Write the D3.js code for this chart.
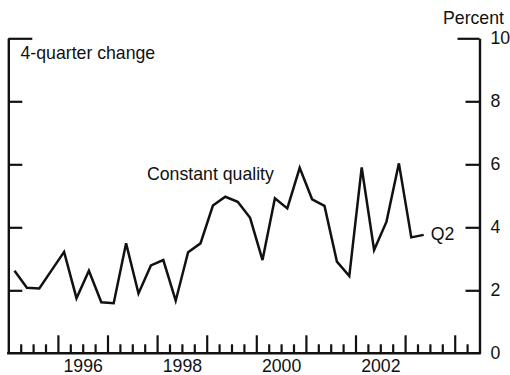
<!DOCTYPE html>
<html>
<head>
<meta charset="utf-8">
<script src="https://cdn.jsdelivr.net/npm/d3@7"></script>
<style>
  html, body { margin: 0; padding: 0; background: #fff; }
  svg { display: block; }
  text { font-family: "Liberation Sans", Arial, Helvetica, sans-serif; fill: #111; }
</style>
</head>
<body>
<svg id="chart" width="510" height="375"></svg>
<script>
// ---- Data (4-quarter change, percent), quarterly from 1995 Q1 to 2003 Q2 ----
const startYear = 1995;
const values = [2.62, 2.08, 2.06, 2.64, 3.22, 1.75, 2.62, 1.62, 1.59, 3.49,
                1.90, 2.79, 2.96, 1.67, 3.21, 3.49, 4.69, 4.97, 4.81, 4.30,
                2.96, 4.92, 4.60, 5.89, 4.89, 4.68, 2.91, 2.45, 5.90, 3.28,
                4.18, 6.03, 3.68, 3.76];
const yTicks = [0, 2, 4, 6, 8, 10];
const yearLabels = [1996, 1998, 2000, 2002];
const yearTicks = [1996, 1997, 1998, 1999, 2000, 2001, 2002, 2003, 2004];
const xDomain = [1995, 2004.5];
const seriesLabel = "Constant quality";
const endLabel = "Q2";
const panelLabel = "4-quarter change";
const unitLabel = "Percent";

(function () {
// ---- Layout ----
const mLeft = 8.3, mRight = 479.5, mTop = 38.3, mBottom = 353.3;
const FS = 17.7;

const svg = d3.select("#chart");
const x = d3.scaleLinear().domain(xDomain).range([mLeft, mRight]);
const y = d3.scaleLinear().domain([0, 10]).range([mBottom, mTop]);

const points = values.map((v, i) => ({ t: startYear + Math.floor(i / 4) + ((i % 4) + 0.5) / 4, v }));

const quarterTicks = d3.range(Math.round((xDomain[1] - xDomain[0]) * 4) + 1)
  .map(i => xDomain[0] + i / 4)
  .filter(t => t > xDomain[0] && t < xDomain[1] && Math.abs(t - Math.round(t)) > 1e-6);

function styleAxis(g) {
  g.selectAll("path.domain").attr("stroke", "#111").attr("stroke-width", 2.4);
  g.selectAll(".tick line").attr("stroke", "#111").attr("stroke-width", 2.2);
  g.selectAll("text").attr("font-size", FS).attr("font-family", "Liberation Sans, Arial, sans-serif").attr("fill", "#111");
}

// Quarter ticks (short)
svg.append("g").attr("transform", `translate(0,${mBottom})`)
  .call(d3.axisBottom(x).tickValues(quarterTicks).tickSize(-9).tickSizeOuter(0).tickFormat(""))
  .call(g => g.select("path.domain").remove())
  .call(styleAxis);

// Year ticks (tall)
svg.append("g").attr("transform", `translate(0,${mBottom})`)
  .call(d3.axisBottom(x).tickValues(yearTicks).tickSize(-18).tickSizeOuter(0).tickFormat(""))
  .call(g => g.select("path.domain").remove())
  .call(styleAxis);

// Year labels (centered mid-year) + baseline
svg.append("g").attr("transform", `translate(0,${mBottom})`)
  .call(d3.axisBottom(x).tickValues(yearLabels.map(d => d + 0.5)).tickSize(0).tickSizeOuter(0)
        .tickPadding(6.6).tickFormat(d => String(Math.floor(d))))
  .call(styleAxis)
  .call(g => g.select("path.domain").attr("d", `M${mLeft - 1.2},0H${mRight + 1.2}`));

// Left axis (no labels)
svg.append("g").attr("transform", `translate(${mLeft},0)`)
  .call(d3.axisLeft(y).tickValues(yTicks.filter(d => d > 0)).tickSize(-14).tickSizeOuter(0).tickFormat(""))
  .call(styleAxis)
  .call(g => g.selectAll(".tick line").filter(d => d === 10).attr("x2", 24));

// Right axis (labels)
svg.append("g").attr("transform", `translate(${mRight},0)`)
  .call(d3.axisRight(y).tickValues(yTicks).tickSize(-14).tickSizeOuter(0).tickPadding(11).tickFormat(d3.format("d")))
  .call(styleAxis)
  .call(g => g.selectAll(".tick line").filter(d => d === 0).remove())
  .call(g => g.selectAll(".tick line").filter(d => d === 10).attr("x2", -22));

// Series line
svg.append("path")
  .datum(points)
  .attr("fill", "none")
  .attr("stroke", "#111")
  .attr("stroke-width", 2.5)
  .attr("stroke-linejoin", "miter")
  .attr("d", d3.line().x(d => x(d.t)).y(d => y(d.v)));

// Texts
svg.append("text").attr("x", 443).attr("y", 24).attr("font-size", FS).text(unitLabel);
svg.append("text").attr("x", 20.5).attr("y", 59.3).attr("font-size", FS).text(panelLabel);
svg.append("text").attr("x", 147).attr("y", 180).attr("font-size", FS).text(seriesLabel);
const last = points[points.length - 1];
svg.append("text").attr("x", x(last.t) + 7).attr("y", y(last.v) + 5).attr("font-size", FS).text(endLabel);
})();
</script>
</body>
</html>
